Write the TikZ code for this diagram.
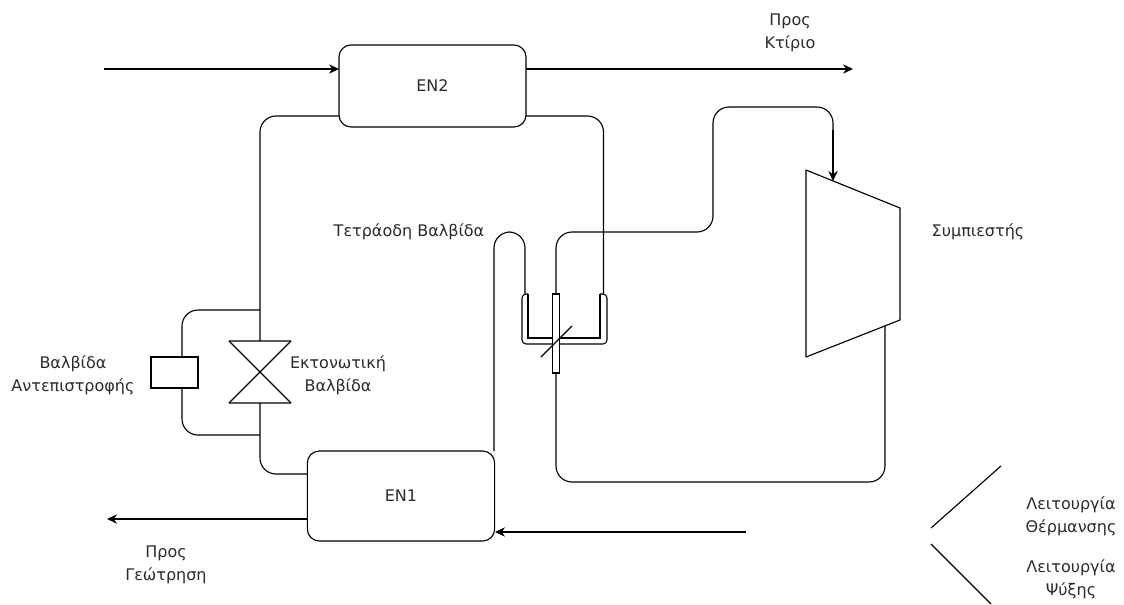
\documentclass[tikz,border=0pt]{standalone}
\usepackage{fontspec}
\setmainfont{DejaVu Sans}
\usetikzlibrary{arrows.meta}
\definecolor{labelgrey}{HTML}{2B2B2B}
\tikzset{
  pipe/.style={black, line width=0.85pt, rounded corners=12pt, line join=round},
  flow/.style={pipe, -{Stealth[length=7.5pt,width=7pt]}},
  exchanger/.style={draw=black, line width=0.85pt, rounded corners=9pt, inner sep=0pt, fill=white, text=labelgrey, font=\fontsize{12}{14}\selectfont},
  label/.style={text=labelgrey, font=\fontsize{12}{17}\selectfont, align=center, inner sep=0pt}
}

\begin{document}
\begin{tikzpicture}[x=0.75pt, y=-0.75pt]
  \useasboundingbox (0,0) rectangle (1124,604);

  % ---------- Pipe junctions and free ends ----------
  \coordinate (inhot) at (104,69);
  \coordinate (outhot) at (853,69);
  \coordinate (en2in) at (339,69);
  \coordinate (en2out) at (526,69);
  \coordinate (en2l) at (339,116);
  \coordinate (en2r) at (526,116);
  \coordinate (bypasstop) at (260,310);
  \coordinate (bypassbot) at (260,435);
  \coordinate (valvetop) at (260,341);
  \coordinate (valvebot) at (260,403);
  \coordinate (en1l) at (307,474);
  \coordinate (en1top) at (494,451);
  \coordinate (en1out) at (307,519);
  \coordinate (outcold) at (107,519);
  \coordinate (incold) at (746,532);
  \coordinate (en1in) at (495,532);
  \coordinate (portl) at (525,294);
  \coordinate (portm) at (556,294);
  \coordinate (portr) at (603.5,294);
  \coordinate (portb) at (556,373);
  \coordinate (compin) at (833,181);
  \coordinate (compout) at (885,326);

  % ---------- Heat exchangers and check valve ----------
  \node[exchanger, minimum width=140.25pt, minimum height=61.5pt] (en2) at (432.5,86) {EN2};
  \node[exchanger, minimum width=140.5pt, minimum height=67.5pt] (en1) at (401,496) {EN1};
  \node[draw, line width=0.85pt, minimum width=35.25pt, minimum height=23.25pt, inner sep=0pt] (check) at (174.5,372.5) {};

  % ---------- Outer water lines ----------
  \draw[flow] (inhot) -- (en2in);
  \draw[flow] (en2out) -- (outhot);
  \draw[flow] (en1out) -- (outcold);
  \draw[flow] (incold) -- (en1in);

  % ---------- Refrigerant loop ----------
  \draw[pipe] (en2l) -- (260,116) -- (valvetop);
  \draw[pipe] (valvebot) -- (260,474) -- (en1l);
  \draw[pipe] (bypasstop) -- (182,310) -- (182,357);
  \draw[pipe] (182,388) -- (182,435) -- (bypassbot);
  \draw[pipe] (en2r) -- (603.5,116) -- (portr);
  \draw[pipe] (en1top) -- (494,232) -- (525,232) -- (portl);
  \draw[pipe] (portm) -- (556,232) -- (713,232) -- (713,107) -- (833,107) -- (833,140);
  \draw[flow] (833,130) -- (compin);
  \draw[pipe] (portb) -- (556,482) -- (885,482) -- (compout);

  % ---------- Expansion valve and compressor ----------
  \draw[line width=0.85pt, line join=round] (valvetop) ++(-31,0) -- ++(62,62) -- ++(-62,0) -- ++(62,-62) -- cycle;
  \draw[line width=0.85pt, line join=round] (806,170) -- (900,208) -- (900,320) -- (806,357) -- cycle;

  % ---------- Four-way valve ----------
  \draw[line width=0.8pt, rounded corners=3pt] (528,294) -- (522,294) -- (522,344) -- (552.5,344);
  \draw[line width=0.8pt, rounded corners=3pt] (559.5,344) -- (607,344) -- (607,294) -- (600,294);
  \draw[line width=0.8pt] (528,294) -- (528,338) -- (552.5,338);
  \draw[line width=0.8pt] (559.5,338) -- (600,338) -- (600,294);
  \draw[line width=0.8pt] (552.5,373) -- (552.5,294) -- (559.5,294) -- (559.5,373) -- cycle;
  \draw[line width=1pt] (541,357) -- (572,326);

  % ---------- Mode legend ----------
  \draw[line width=0.85pt] (931,528) -- (1001,466);
  \draw[line width=0.85pt] (931,544) -- (991,604);

  % ---------- Labels ----------
  \node[label] (tobuilding) at (790,33) {Προς\\Κτίριο};
  \node[label] (compressor) at (978,232) {Συμπιεστής};
  \node[label] (fourway) at (409,232) {Τετράοδη Βαλβίδα};
  \node[label] (checklabel) at (73,375) {Βαλβίδα\\Αντεπιστροφής};
  \node[label] (expansion) at (338,375) {Εκτονωτική\\Βαλβίδα};
  \node[label] (towell) at (166,565) {Προς\\Γεώτρηση};
  \node[label] (heating) at (1071,516) {Λειτουργία\\Θέρμανσης};
  \node[label] (cooling) at (1071,579) {Λειτουργία\\Ψύξης};
\end{tikzpicture}
\end{document}
